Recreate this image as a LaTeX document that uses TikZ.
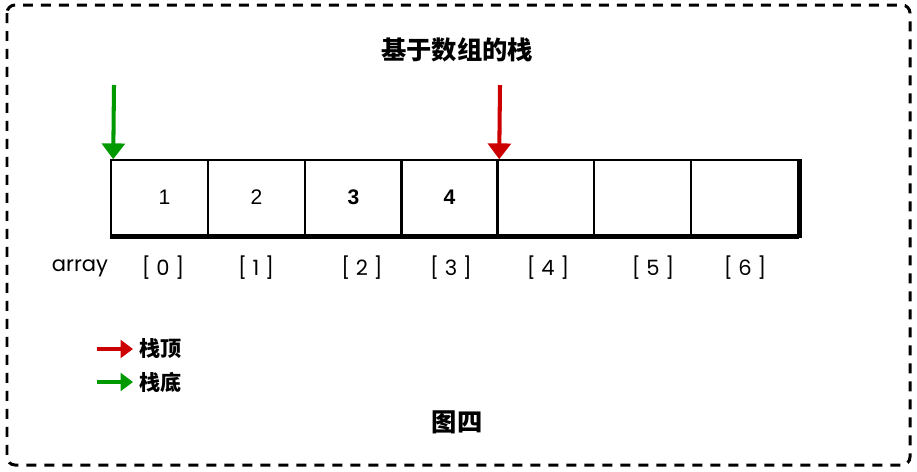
\documentclass[tikz,border=0pt]{standalone}
\usepackage{fontspec}
\newfontfamily\cjk{Noto Sans CJK SC}
\newfontfamily\numfont{Liberation Sans}
\newfontfamily\idxfont{Poppins}
\usetikzlibrary{arrows.meta}

\tikzset{
  cell/.style={draw, line width=0.9pt, minimum width=1.94cm, minimum height=1.5cm,
    inner sep=0pt, font=\numfont\large},
  idx/.style={font=\idxfont\large},
  ptr/.style={line width=2.3pt, -{Triangle[width=13pt,length=9pt]}},
  key/.style={line width=2.6pt, -{Triangle[width=10pt,length=7pt]}},
  label/.style={font=\cjk\bfseries\large, anchor=west}
}

\begin{document}
\begin{tikzpicture}[x=0.02cm, y=-0.02cm]
\useasboundingbox (0,0) rectangle (917,471);

% frame
\draw[line width=0.06cm, dash pattern=on 0.2cm off 0.16cm, rounded corners=0.16cm] (7,5) rectangle (910,465);

% title
\node (title) at (457,50) {\cjk\bfseries\Large 基于数组的栈};

% cells
\node[cell] (c0) at (159.5,197.5) {\hspace{0.2cm}1};
\node[cell] (c1) at (256.5,197.5) {2};
\node[cell] (c2) at (353.5,197.5) {\bfseries 3};
\node[cell] (c3) at (449.5,197.5) {\bfseries 4};
\node[cell] (c4) at (545.5,197.5) {};
\node[cell] (c5) at (642.5,197.5) {};
\node[cell, minimum width=2.14cm] (c6) at (744.5,197.5) {};

% shadow
\draw[line width=1.8pt] ([yshift=-1.2pt]c0.south west) -- ([yshift=-1.2pt]c6.south east);
\draw[line width=1.8pt] ([xshift=1.2pt]c6.north east) -- ([xshift=1.2pt,yshift=-1.2pt]c6.south east);

% indices
\node[idx] (arr) at (80,268) {array};
\node[idx] (i0) at (163,268) {[ 0 ]};
\node[idx] (i1) at (256,268) {[ 1 ]};
\node[idx] (i2) at (362,268) {[ 2 ]};
\node[idx] (i3) at (451,268) {[ 3 ]};
\node[idx] (i4) at (548,268) {[ 4 ]};
\node[idx] (i5) at (653,268) {[ 5 ]};
\node[idx] (i6) at (745,268) {[ 6 ]};

% pointers
\coordinate (bot) at (114,85);
\coordinate (top) at (500,85);
\draw[ptr, green!60!black] (bot) -- ([xshift=0.06cm]c0.north west);
\draw[ptr, red!80!black] (top) -- ([xshift=0.06cm]c4.north west);

% legend
\coordinate (k1) at (97,349);
\coordinate (k2) at (97,382);
\node[label] (topkey) at (133,349) {栈顶};
\node[label] (botkey) at (133,382) {栈底};
\draw[key, red!80!black] (k1) -- (topkey.west);
\draw[key, green!60!black] (k2) -- (botkey.west);

% caption
\node (cap) at (457,422) {\cjk\bfseries\Large 图四};

\end{tikzpicture}
\end{document}
